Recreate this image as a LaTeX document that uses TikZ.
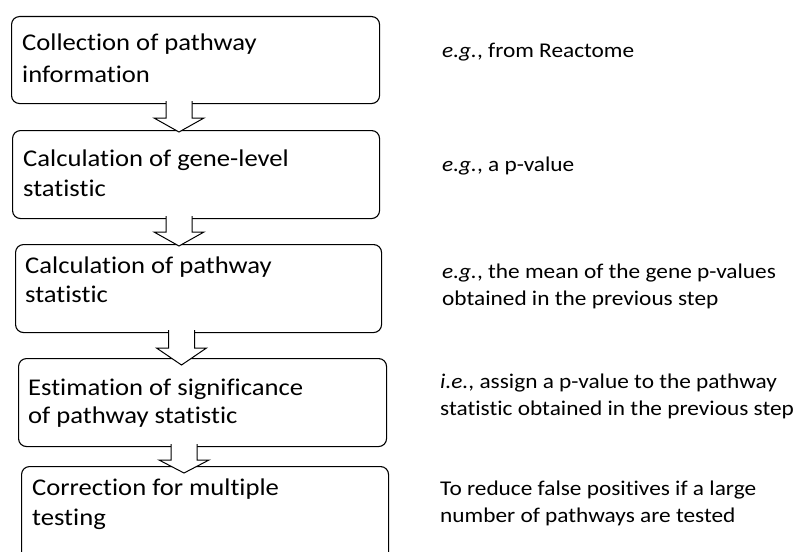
\documentclass[tikz,border=0pt]{standalone}
\usepackage{fontspec}
\setmainfont[FakeStretch=1.11, Ligatures={NoCommon}]{Carlito}
\begin{document}
\begin{tikzpicture}[x=1pt,y=-1pt]
\tikzset{
  stepbox/.style={draw=black, line width=1.1pt, rounded corners=8pt, fill=white, anchor=north west, inner sep=0pt},
  lefttext/.style={anchor=base west, inner sep=0pt, font=\fontsize{24}{29}\selectfont},
  righttext/.style={anchor=base west, inner sep=0pt, font=\fontsize{21}{26}\selectfont},
  arrfill/.style={fill=white},
  arrline/.style={draw=black, line width=1pt, line join=miter},
}
\useasboundingbox (0,0) rectangle (799,551);
\clip (0,0) rectangle (799,551);
\fill[white] (0,0) rectangle (799,551);

% boxes
\node[stepbox, minimum width=368, minimum height=87] (b1) at (11,16) {};
\node[stepbox, minimum width=367, minimum height=88] (b2) at (12,130) {};
\node[stepbox, minimum width=366, minimum height=88] (b3) at (15,244) {};
\node[stepbox, minimum width=368, minimum height=88] (b4) at (18,358) {};
\node[stepbox, minimum width=367, minimum height=100] (b5) at (21,466) {};

% block arrows (centre x, top y, shaft end y, tip y)
\newcommand{\blockarrow}[4]{%
  \pgfmathsetmacro{\xl}{#1-13}\pgfmathsetmacro{\xr}{#1+13}%
  \pgfmathsetmacro{\hl}{#1-25}\pgfmathsetmacro{\hr}{#1+25}%
  \coordinate (tipc) at (#1,#4);
  \fill[arrfill] (\xl,#2) -- (\xl,#3) -- (\hl,#3) -- (tipc) -- (\hr,#3) -- (\xr,#3) -- (\xr,#2) -- cycle;
  \draw[arrline] (\xl,#2) -- (\xl,#3) -- (\hl,#3) -- (tipc) -- (\hr,#3) -- (\xr,#3) -- (\xr,#2);
}
\blockarrow{179}{101}{118}{132}
\blockarrow{179}{216}{232}{246}
\blockarrow{181.5}{330}{348}{365}
\blockarrow{184}{444}{460}{473}

% left texts
\node[lefttext] (t1a) at (22,51) {Collection of pathway};
\node[lefttext] (t1b) at (22,82) {information};
\node[lefttext] (t2a) at (23,166) {Calculation of gene-level};
\node[lefttext] (t2b) at (23,196) {statistic};
\node[lefttext] (t3a) at (25,273) {Calculation of pathway};
\node[lefttext] (t3b) at (25,302) {statistic};
\node[lefttext] (t4a) at (28,395) {Estimation of significance};
\node[lefttext] (t4b) at (28,423) {of pathway statistic};
\node[lefttext] (t5a) at (32,495) {Correction for multiple};
\node[lefttext] (t5b) at (32,525) {testing};

% right texts
\node[righttext] (r1) at (442,57) {\textit{e.g.}, from Reactome};
\node[righttext] (r2) at (442,171) {\textit{e.g.}, a p-value};
\node[righttext] (r3a) at (442,278) {\textit{e.g.}, the mean of the gene p-values};
\node[righttext] (r3b) at (442,305) {obtained in the previous step};
\node[righttext] (r4a) at (440,388) {\textit{i.e.}, assign a p-value to the pathway};
\node[righttext] (r4b) at (440,415) {statistic obtained in the previous step};
\node[righttext] (r5a) at (440,495) {To reduce false positives if a large};
\node[righttext] (r5b) at (440,522) {number of pathways are tested};
\end{tikzpicture}
\end{document}
